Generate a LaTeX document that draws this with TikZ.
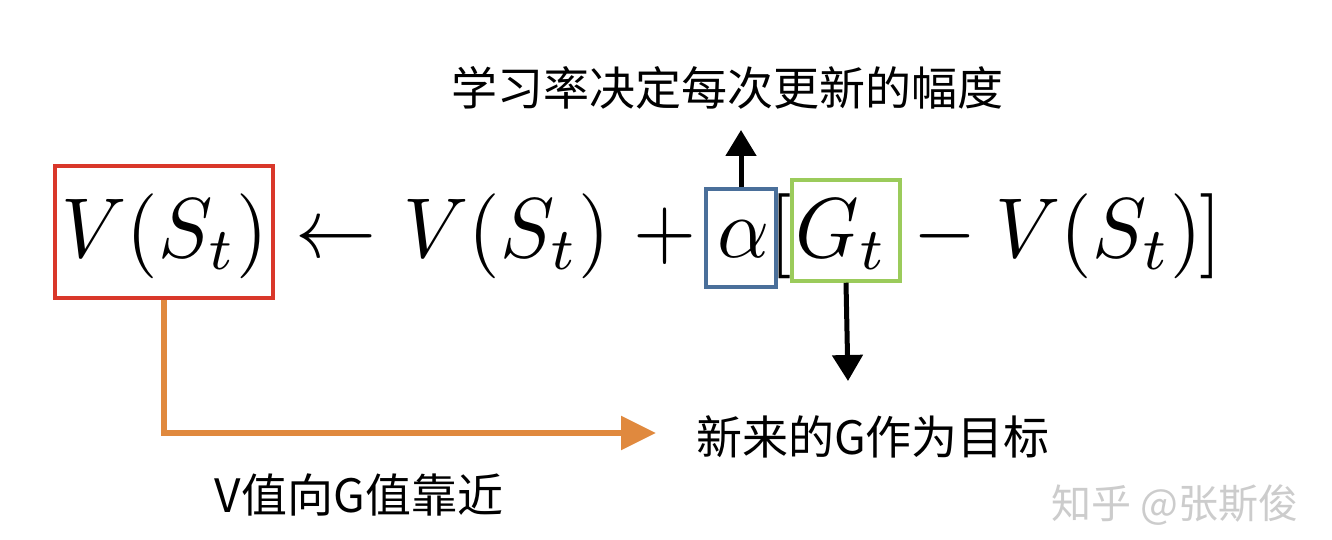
\documentclass[tikz,border=0pt]{standalone}
\usepackage{fontspec}
\newfontfamily\cjk{Noto Sans CJK SC}
\usetikzlibrary{arrows.meta}
\definecolor{boxred}{HTML}{D9372A}
\definecolor{boxblue}{HTML}{4A6F9A}
\definecolor{boxgreen}{HTML}{9BCB5B}
\definecolor{arrorange}{HTML}{E0893E}
\definecolor{wmgray}{HTML}{CCCCCC}
\tikzset{
  mathpart/.style={inner sep=0pt, anchor=base west, xscale=8.1, yscale=8.5},
  hibox/.style={draw, inner sep=0pt, fill=none},
  label cjk/.style={font=\cjk\fontsize{46}{50}\selectfont, inner sep=0pt},
  blackarrow/.style={line width=5pt, -{Triangle[length=26pt,width=30pt]}},
  orangearrow/.style={draw=arrorange, line width=6pt, -{Triangle[length=35pt,width=33pt]}, color=arrorange},
}
\begin{document}
\begin{tikzpicture}[x=1pt,y=-1pt]
\useasboundingbox (0,0) rectangle (1332,540);
\fill[white] (0,0) rectangle (1332,540);
% formula pieces
\node[mathpart] (f1) at (60,257) {$V(S_t)$};
\node[mathpart] (larr) at (294,257) {$\leftarrow$};
\node[mathpart] (f2) at (402,257) {$V(S_t)$};
\node[mathpart] (plus) at (632,257) {$+$};
\node[mathpart] (al) at (716,257) {$\alpha$};
\node[mathpart] (lb) at (768,257) {$[$};
\node[mathpart] (gt) at (794,257) {$G_t$};
\node[mathpart] (minus) at (912,257) {$-$};
\node[mathpart] (f3) at (994,257) {$V(S_t)$};
\node[mathpart] (rbk) at (1198,257) {$]$};
% highlight boxes
\node[hibox, draw=boxred, line width=4pt, minimum width=218pt, minimum height=132pt] (rb) at (164,232) {};
\node[hibox, draw=boxblue, line width=3.5pt, minimum width=70pt, minimum height=98pt] (ba) at (741,238) {};
\node[hibox, draw=boxgreen, line width=3.5pt, minimum width=108pt, minimum height=101pt] (gb) at (846,230.5) {};
% labels
\node[label cjk] (lr) at (727,88) {学习率决定每次更新的幅度};
\node[label cjk] (tg) at (873,437) {新来的G作为目标};
\node[label cjk] (vg) at (359,495) {V值向G值靠近};
\node[label cjk, font=\cjk\fontsize{40}{44}\selectfont, text=wmgray] (wm) at (1175,505) {知乎 @张斯俊};
% arrow end points
\coordinate (upend) at (741,130);
\coordinate (downend) at (848,381);
\coordinate (orangeend) at (656,433);
% connectors
\draw[blackarrow] (ba.north) -- (upend);
\draw[blackarrow] (gb.south) -- (downend);
\draw[orangearrow] (rb.south) |- (orangeend);
\end{tikzpicture}
\end{document}
